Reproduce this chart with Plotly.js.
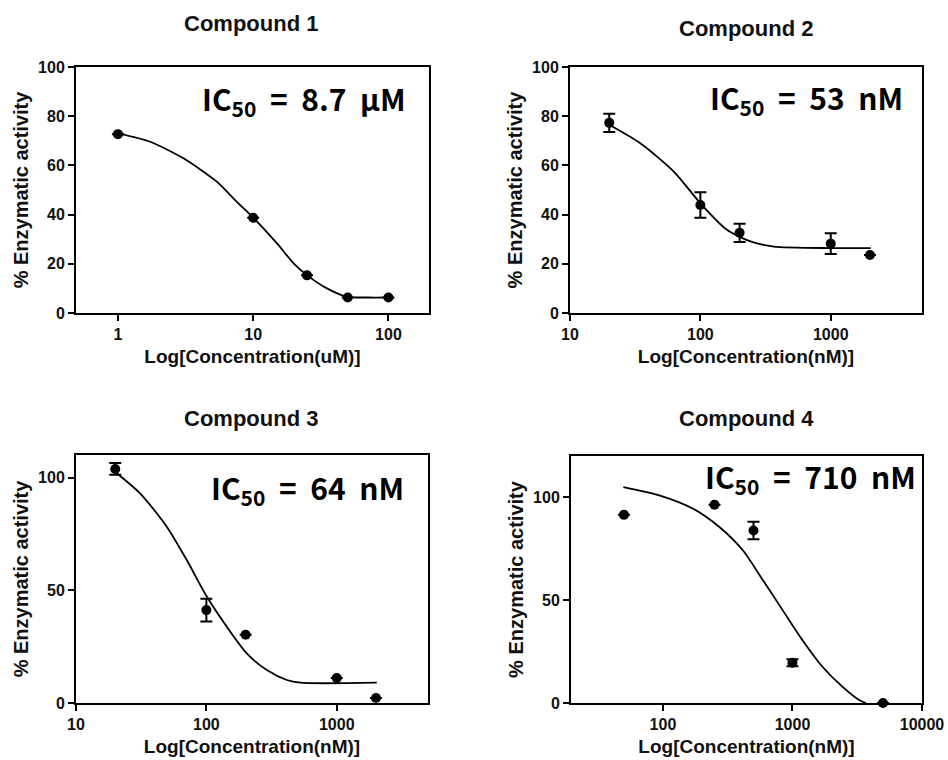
<!DOCTYPE html>
<html>
<head>
<meta charset="utf-8">
<script src="https://cdn.plot.ly/plotly-3.0.1.min.js"></script>
<style>html,body{margin:0;padding:0;background:#fff;}#chart{width:948px;height:760px;}</style>
</head>
<body>
<div id="chart"></div>
<script>
// ---------- data ----------
const titles = ["Compound 1", "Compound 2", "Compound 3", "Compound 4"];
const ic50Labels = [
  "IC<sub>50</sub>&nbsp; = &nbsp;8.7 &nbsp;μM",
  "IC<sub>50</sub>&nbsp; = &nbsp;53 &nbsp;nM",
  "IC<sub>50</sub>&nbsp; = &nbsp;64 &nbsp;nM",
  "IC<sub>50</sub>&nbsp; = &nbsp;710 &nbsp;nM"
];
const xTitles = ["Log[Concentration(uM)]", "Log[Concentration(nM)]", "Log[Concentration(nM)]", "Log[Concentration(nM)]"];
const yTitle = "% Enzymatic activity";

const conc1 = [1, 10, 25, 50, 100];
const act1 = [72.7, 38.7, 15.3, 6.3, 6.3];
const err1 = [0, 0, 0, 0, 0];
const fit1X = [1, 1.73, 3.05, 5.38, 7.57, 10.05, 15.0, 19.9, 25, 35.1, 49.4, 70, 100];
const fit1Y = [73.0, 69.6, 62.9, 53.4, 45.2, 38.7, 28.3, 20.2, 15.4, 10.0, 6.6, 6.3, 6.3];

const conc2 = [20, 100, 200, 1000, 2000];
const act2 = [77.3, 43.9, 32.6, 28.2, 23.6];
const err2 = [3.7, 5.2, 3.7, 4.2, 0];
const fit2X = [20, 34.8, 62.8, 100, 160, 242, 366, 1000, 2027];
const fit2Y = [76.5, 68.9, 57.4, 44.6, 33.8, 29.1, 27.0, 26.4, 26.4];

const conc3 = [20, 100, 200, 1000, 2000];
const act3 = [103.8, 41.2, 30.3, 11.1, 2.2];
const err3 = [2.6, 5.0, 0, 0, 0];
const fit3X = [19.9, 31, 49.7, 70.7, 100.7, 143.5, 204, 291, 414, 524, 2028];
const fit3Y = [102.6, 93.0, 78.2, 63.4, 47.2, 33.8, 22.0, 14.6, 10.2, 9.0, 9.0];

const conc4 = [50, 250, 500, 1000, 5000];
const act4 = [91.4, 96.3, 83.8, 19.6, 0];
const err4 = [0, 0, 4.3, 1.7, 0];
const fit4X = [49.5, 94.8, 171, 274, 415, 592, 842, 1199, 1710, 2438, 3296, 3690];
const fit4Y = [104.9, 100.8, 94.4, 85.4, 74.1, 59.6, 45.0, 30.4, 17.5, 7.8, 1.3, 0];

const xTickVals = [[1, 10, 100], [10, 100, 1000], [10, 100, 1000], [100, 1000, 10000]];
const xTickText = [["1", "10", "100"], ["10", "100", "1000"], ["10", "100", "1000"], ["100", "1000", "10000"]];
const yTickVals = [[0, 20, 40, 60, 80, 100], [0, 20, 40, 60, 80, 100], [0, 50, 100], [0, 50, 100]];

// ---------- layout geometry (pixels) ----------
const W = 948, H = 760;
const px = v => v / W;
const py = v => 1 - v / H;
const boxes = [
  {l: 76, r: 429, t: 67, b: 313},
  {l: 570, r: 922, t: 67, b: 313},
  {l: 76, r: 428, t: 455, b: 703},
  {l: 571, r: 922, t: 456, b: 703}
];
const xRanges = [[-0.31, 2.30], [1, 3.7], [1, 3.7], [1.29, 4.0]];
const yRanges = [[0, 100], [0, 100], [0, 110], [0, 120]];
const titlePos = [[251, 24], [746, 28], [251, 418], [746, 418]];
const icPos = [[408, 99], [905, 98], [406, 489], [918, 478]];

const concs = [conc1, conc2, conc3, conc4];
const acts = [act1, act2, act3, act4];
const errs = [err1, err2, err3, err4];
const fitXs = [fit1X, fit2X, fit3X, fit4X];
const fitYs = [fit1Y, fit2Y, fit3Y, fit4Y];

const FONT = "Liberation Sans, Arial, sans-serif";
const traces = [];
const layout = {
  width: W, height: H,
  margin: {l: 0, r: 0, t: 0, b: 0},
  paper_bgcolor: "#fff", plot_bgcolor: "#fff",
  showlegend: false,
  annotations: []
};

for (let i = 0; i < 4; i++) {
  const n = i + 1;
  const xa = "x" + (n === 1 ? "" : n), ya = "y" + (n === 1 ? "" : n);
  traces.push({
    x: fitXs[i], y: fitYs[i], xaxis: xa, yaxis: ya,
    mode: "lines", type: "scatter",
    line: {color: "#000", width: 1.8, shape: "spline", smoothing: 0.7},
    hoverinfo: "skip"
  });
  traces.push({
    x: concs[i], y: acts[i], xaxis: xa, yaxis: ya,
    mode: "markers", type: "scatter",
    marker: {color: "#000", size: 10, symbol: "circle"},
    error_y: {type: "data", array: errs[i], visible: true, color: "#000", thickness: 2, width: 6},
    cliponaxis: false
  });
  const b = boxes[i];
  layout["xaxis" + (n === 1 ? "" : n)] = {
    domain: [px(b.l), px(b.r)], anchor: ya, type: "log", range: xRanges[i],
    tickvals: xTickVals[i], ticktext: xTickText[i],
    ticks: "outside", ticklen: 6, tickwidth: 2, tickcolor: "#000",
    showline: true, linewidth: 2, linecolor: "#000", mirror: true,
    showgrid: false, zeroline: false,
    tickfont: {family: FONT, size: 16, color: "#111", weight: "bold"},
    title: {text: xTitles[i], font: {family: FONT, size: 19, color: "#111", weight: "bold"}, standoff: 7}
  };
  layout["yaxis" + (n === 1 ? "" : n)] = {
    domain: [py(b.b), py(b.t)], anchor: xa, range: yRanges[i],
    tickvals: yTickVals[i],
    ticks: "outside", ticklen: 6, tickwidth: 2, tickcolor: "#000",
    showline: true, linewidth: 2, linecolor: "#000", mirror: true,
    showgrid: false, zeroline: false,
    tickfont: {family: FONT, size: 16, color: "#111", weight: "bold"},
    title: {text: yTitle, font: {family: FONT, size: 20, color: "#111", weight: "bold"}, standoff: 4}
  };
  layout.annotations.push({
    xref: "paper", yref: "paper", x: px(titlePos[i][0]), y: py(titlePos[i][1]),
    xanchor: "center", yanchor: "middle", showarrow: false,
    text: titles[i], font: {family: FONT, size: 22, color: "#111", weight: "bold"}
  });
  layout.annotations.push({
    xref: "paper", yref: "paper", x: px(icPos[i][0]), y: py(icPos[i][1]),
    xanchor: "right", yanchor: "middle", showarrow: false,
    text: ic50Labels[i], font: {family: "Noto Sans CJK KR, Noto Sans, sans-serif", size: 30, color: "#000", weight: "bold"}
  });
}

Plotly.newPlot("chart", traces, layout, {staticPlot: true, displayModeBar: false});
</script>
</body>
</html>
